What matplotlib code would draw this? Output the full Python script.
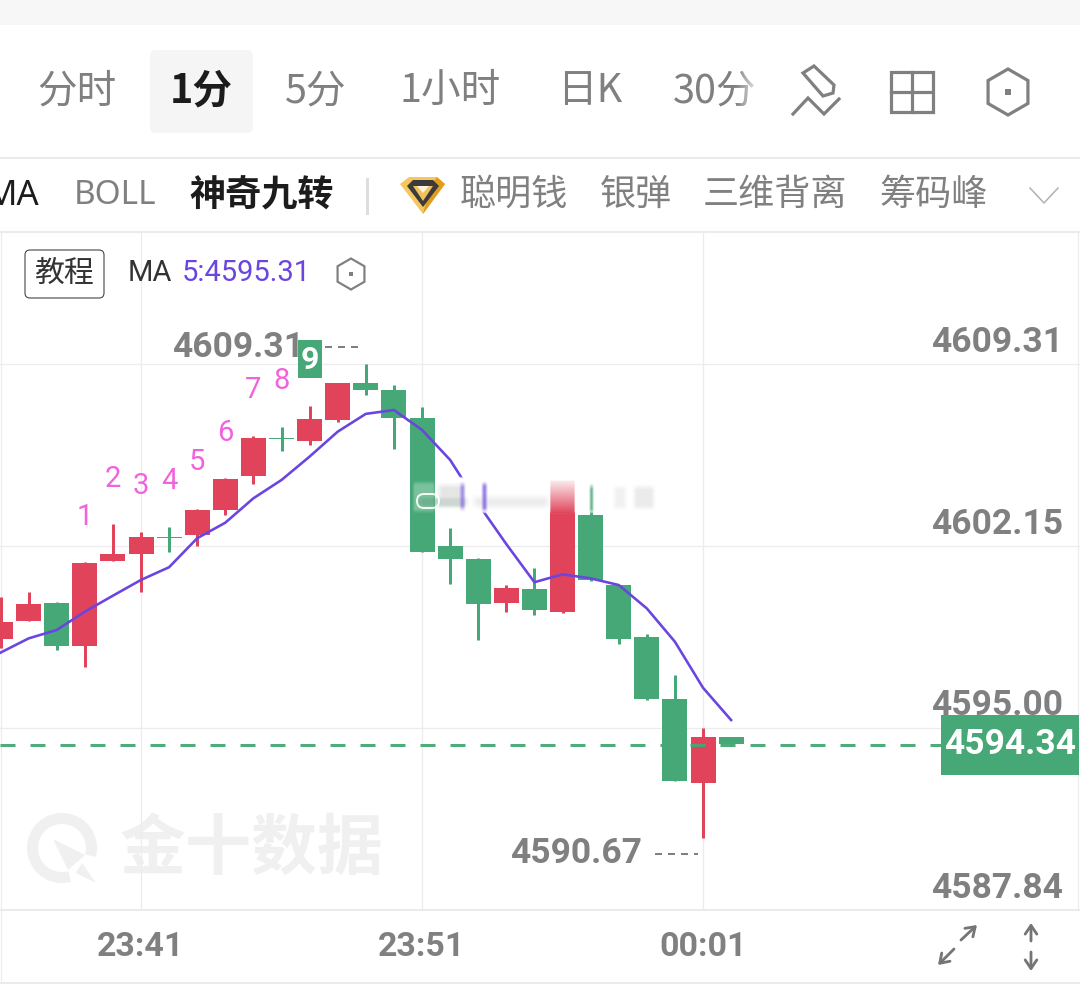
import numpy as np
import matplotlib
matplotlib.use("Agg")
import matplotlib.pyplot as plt
from matplotlib.patches import Rectangle, FancyBboxPatch, Polygon

CJK = ['Noto Sans CJK SC', 'DejaVu Sans']
NARROW = ['Liberation Sans Narrow', 'Roboto', 'DejaVu Sans']
RED, GREEN, PURPLE = '#e0435a', '#45a876', '#6a45e0'
GRAY, DARK, PINK = '#808080', '#1c1c1c', '#f262dc'

# ---------- data ----------
candle_index = list(range(-5, 22))
opens = [4598.51, 4599.20, 4599.92, 4598.22, 4601.55, 4601.85, 4602.51, 4602.57, 4603.58,
         4604.92, 4606.39, 4606.28, 4607.12, 4608.58, 4608.29, 4607.19, 4602.15, 4601.63,
         4599.91, 4600.46, 4599.57, 4603.36, 4600.62, 4598.59, 4596.14, 4592.82, 4594.64]
closes = [4599.17, 4599.87, 4598.23, 4601.50, 4601.84, 4602.50, 4602.47, 4603.58, 4604.79,
          4606.39, 4606.35, 4607.14, 4608.55, 4608.30, 4607.18, 4601.93, 4601.65, 4599.88,
          4600.49, 4599.64, 4604.63, 4600.82, 4598.51, 4596.13, 4592.90, 4594.65, 4594.36]
highs = [4600.16, 4600.36, 4599.95, 4601.52, 4603.02, 4602.70, 4602.91, 4603.62, 4604.83,
         4606.48, 4606.83, 4607.66, 4608.58, 4609.30, 4608.49, 4607.63, 4602.86, 4601.67,
         4600.62, 4601.28, 4604.63, 4604.63, 4600.62, 4598.68, 4597.08, 4595.01, 4594.64]
lows = [4598.14, 4599.20, 4598.06, 4597.41, 4601.55, 4600.35, 4601.93, 4602.17, 4603.38,
        4604.60, 4605.90, 4606.14, 4607.04, 4608.08, 4605.97, 4601.93, 4600.67, 4598.45,
        4599.55, 4599.45, 4599.53, 4600.79, 4598.30, 4596.10, 4592.90, 4590.68, 4594.29]
ma5 = [4597.96, 4598.52, 4598.85, 4599.57, 4600.20, 4600.82, 4601.32, 4602.46, 4603.07,
       4604.03, 4604.75, 4605.67, 4606.65, 4607.35, 4607.50, 4606.72, 4605.54, 4603.81,
       4602.23, 4600.73, 4601.04, 4600.88, 4600.62, 4599.70, 4598.39, 4596.58, 4595.31]
td_index = [-2, -1, 0, 1, 2, 3, 4, 5]
td_labels = ['1', '2', '3', '4', '5', '6', '7', '8']
td_prices = [4603.29, 4604.79, 4604.51, 4604.71, 4605.46, 4606.60, 4608.29, 4608.64]
y_ticks = [4609.31, 4602.15, 4595.00, 4587.84]
y_labels = ['4609.31', '4602.15', '4595.00', '4587.84']
x_ticks = [0, 10, 20]
x_labels = ['23:41', '23:51', '00:01']
last_price = 4594.34
tabs = ['分时', '1分', '5分', '1小时', '日K', '30分']
indicators_gray = ['BOLL', '聪明钱', '银弹', '三维背离', '筹码峰']

# ---------- layout ----------
W, H = 1080, 993
fig = plt.figure(figsize=(W / 100, H / 100), dpi=100, facecolor='white')
px = 0.72  # points per pixel


def pixel_axes(z):
    a = fig.add_axes([0, 0, 1, 1], zorder=z)
    a.set_xlim(0, W)
    a.set_ylim(H, 0)
    a.axis('off')
    a.patch.set_alpha(0)
    a.autoscale(False)
    return a


bg = pixel_axes(0)
ax = fig.add_axes([0, (H - 910) / H, 1, (910 - 232) / H], zorder=1)
ov = pixel_axes(2)

# ---------- chrome underneath ----------
bg.add_patch(Rectangle((0, 0), W, 25, fc='#f7f7f7', ec='none'))
for yy in (158, 232, 910, 983):
    bg.plot([0, W], [yy, yy], color='#e6e6e6', lw=1.1)
bg.plot([1, 1], [232, 983], color='#ececec', lw=0.8)
bg.plot([1078, 1078], [232, 910], color='#ececec', lw=0.8)
bg.add_patch(FancyBboxPatch((153, 53), 97, 77, boxstyle='round,pad=3,rounding_size=6',
                            fc='#f5f5f5', ec='none'))

# watermark
WM = '#f0f0f0'
phi = np.radians(np.linspace(75, 375, 80))
bg.plot(62 + 29.5 * np.cos(phi), 848 + 29.5 * np.sin(phi), color=WM, lw=11 * px,
        solid_capstyle='butt')
bg.add_patch(Polygon([(53, 839), (85, 855), (68, 870)], fc=WM, ec='none'))
bg.add_patch(Polygon([(82, 863), (96, 883), (76, 873)], fc=WM, ec='none'))
bg.text(252, 850, '金十数据', family=CJK, weight='bold', color=WM, fontsize=47.5,
        ha='center', va='center')

# ---------- chart ----------
ax.patch.set_alpha(0)
ax.set_xlim((0 - 141) / 28.1, (W - 141) / 28.1)
ax.set_ylim(4587.84, 4587.84 + (910 - 232) * 0.039324)
for s in ax.spines.values():
    s.set_visible(False)
ax.set_yticks(y_ticks)
ax.set_xticks(x_ticks)
ax.set_xticklabels(x_labels, family=NARROW, fontsize=24.5, weight='bold', color=GRAY)
ax.tick_params(axis='x', length=0, pad=15)
ax.tick_params(axis='y', length=0, labelleft=False)
ax.grid(True, color='#ececec', lw=0.9)
ax.set_axisbelow(True)

for i, o, c, h, l in zip(candle_index, opens, closes, highs, lows):
    col = RED if c > o else GREEN
    ax.vlines(i, l, h, color=col, lw=3 * px, zorder=3)
    ax.bar(i, abs(c - o), bottom=min(o, c), width=25 / 28.1, color=col, zorder=3)
ax.plot(candle_index, ma5, color=PURPLE, lw=2.6 * px, zorder=4, solid_joinstyle='round')
ax.plot([ax.get_xlim()[0], (941 - 141) / 28.1], [last_price, last_price], color=GREEN,
        lw=3 * px, dashes=(15 / 3, 15 / 3), zorder=5, alpha=0.95)

for i, lab, p in zip(td_index, td_labels, td_prices):
    ax.text(i, p, lab, family=NARROW, color=PINK, fontsize=21, ha='center', va='center', zorder=6)

for v, lab in zip(y_ticks, y_labels):
    ax.annotate(lab, (1, v), xycoords=('axes fraction', 'data'),
                xytext=(-17 * px, 22 * px), textcoords='offset points',
                family=NARROW, weight='bold', fontsize=25.5, color=GRAY,
                ha='right', va='center', zorder=6)

# high / low markers
hi_i, lo_i = candle_index[highs.index(max(highs))], candle_index[lows.index(min(lows))]
ax.annotate(f'{max(highs) + 0.01:.2f}', (hi_i, max(highs)), xytext=(-62 * px, 17 * px),
            textcoords='offset points', family=NARROW, weight='bold', fontsize=25.5,
            color=GRAY, ha='right', va='center', zorder=5)
ax.annotate(f'{min(lows) - 0.01:.2f}', (lo_i, min(lows)), xytext=(-61 * px, -16 * px),
            textcoords='offset points', family=NARROW, weight='bold', fontsize=25.5,
            color=GRAY, ha='right', va='center', zorder=5)
ov.plot([325, 360], [347, 347], color=GRAY, lw=2 * px, dashes=(3.5, 3))
ov.plot([655, 698], [854, 854], color=GRAY, lw=2 * px, dashes=(3.5, 3))

# ---------- overlay ----------
ov.add_patch(Rectangle((298, 340), 24, 38, fc=GREEN, ec='none', zorder=5))
ov.text(310, 360, '9', family=NARROW, weight='bold', color='white', fontsize=23,
        ha='center', va='center', zorder=6)
ov.add_patch(Rectangle((941, 715), 138, 60, fc=GREEN, ec='none', zorder=5))
ov.text(1010, 745, f'{last_price:.2f}', family=NARROW, weight='bold', color='white',
        fontsize=25.5, ha='center', va='center', zorder=6)


def soft(x0, x1, y0, y1, color, alpha, ex=4, ey=4, fy=None):
    """soft-edged colour veil (for the blurred strip)"""
    xs = np.linspace(x0, x1, 120)
    ys = np.linspace(y0, y1, 60)
    ax_ = np.clip((xs - x0) / ex, 0, 1) * np.clip((x1 - xs) / ex, 0, 1)
    ay_ = np.clip((ys - y0) / ey, 0, 1) * np.clip((y1 - ys) / ey, 0, 1)
    if fy is not None:
        ay_ = ay_ * np.interp(ys, [y0, y1], fy)
    arr = np.zeros((60, 120, 4))
    arr[..., :3] = matplotlib.colors.to_rgb(color)
    arr[..., 3] = alpha * np.outer(ay_, ax_)
    ov.imshow(arr, extent=(x0, x1, y1, y0), aspect='auto', interpolation='bilinear', zorder=3)


# blurred strip
soft(436, 668, 476, 514, 'white', 1.0, ex=3, ey=2)
soft(412, 436, 480, 514, 'white', 0.30, ex=3, ey=5)
soft(414, 470, 496, 508, '#5f9b7c', 0.45, ex=10, ey=4)
soft(436, 466, 482, 510, '#d9d9d9', 0.65, ex=6, ey=6)
soft(470, 552, 494, 510, '#e4e4e4', 0.65, ex=8, ey=6)
soft(459, 466, 481, 512, PURPLE, 0.55, ex=3, ey=6)
soft(481, 488, 481, 513, PURPLE, 0.70, ex=3, ey=5)
soft(550, 575, 480, 514, RED, 1.0, ex=0.5, ey=0.5, fy=[0.10, 1.0])
soft(589, 594, 483, 515, GREEN, 0.8, ex=2, ey=6)
soft(612, 628, 484, 511, '#ebebeb', 0.7, ex=5, ey=6)
soft(632, 656, 484, 511, '#e6e6e6', 0.8, ex=5, ey=6)
ov.add_patch(FancyBboxPatch((417, 494), 22, 14, boxstyle='round,pad=0,rounding_size=7',
                            fc='none', ec='white', lw=2 * px, zorder=4, alpha=0.9))

# tab row
for s, xc in zip(tabs, (77, 201, 316, 450, 590, 715)):
    on = s == '1分'
    ov.text(xc, 91, s, family=CJK, fontsize=28.5, color=DARK if on else GRAY,
            weight='bold' if on else 'normal', ha='center', va='center')
grad = np.ones((4, 40, 4))
grad[..., 3] = np.clip(np.linspace(-0.1, 1.1, 40), 0, 1)
ov.imshow(grad, extent=(733, 765, 115, 65), aspect='auto', interpolation='bilinear', zorder=5)

# toolbar icons
ic = dict(color=GRAY, lw=3.2 * px, solid_joinstyle='miter')
ov.add_patch(Polygon([(814, 66), (834, 85), (833, 93), (823, 96), (803, 73)], closed=True,
                     fc='none', ec=GRAY, lw=3.2 * px))
ov.plot([793, 808, 824, 839], [114, 98, 114, 99], **ic)
ov.add_patch(Rectangle((891, 72), 41.5, 40, fc='none', ec=GRAY, lw=3.2 * px))
ov.plot([912, 912], [72, 112], **ic)
ov.plot([891, 932], [92, 92], **ic)


def hexagon(cx, cy, r, lw, dot):
    t = np.radians(np.arange(0, 360, 60) + 90)
    ov.add_patch(Polygon(np.c_[cx + r * np.cos(t), cy + r * np.sin(t)], closed=True,
                         fc='none', ec=GRAY, lw=lw * px))
    ov.add_patch(Rectangle((cx - dot / 2, cy - dot / 2), dot, dot, fc=GRAY, ec='none'))


hexagon(1008, 92, 23, 3.2, 6)
hexagon(351, 274, 15.5, 2.2, 4)

# indicator row
ov.text(39, 196, 'MA', family=['Noto Sans'], weight='bold', color=DARK, fontsize=25,
        ha='right', va='center')
ov.text(115, 196, indicators_gray[0], family=['Noto Sans'], color=GRAY, fontsize=24,
        ha='center', va='center')
ov.text(262, 196, '神奇九转', family=CJK, weight='bold', color=DARK, fontsize=26,
        ha='center', va='center')
ov.plot([367, 367], [179, 213], color='#dddddd', lw=3 * px)
for s, xc in zip(indicators_gray[1:], (514, 636, 775, 934)):
    ov.text(xc, 195, s, family=CJK, color=GRAY, fontsize=26, ha='center', va='center')
ov.plot([1030, 1044, 1058], [188, 203, 188], color='#b0b0b0', lw=1.5 * px)

# diamond logo
ov.add_patch(Polygon([(400, 184), (409, 177), (437, 177), (445, 184), (423, 214)], fc='#f6c660', ec='none'))
ov.add_patch(Polygon([(423, 214), (445, 184), (437, 177), (430, 186)], fc='#e39d1e', ec='none'))
ov.add_patch(Polygon([(407, 186), (413, 180), (433, 180), (439, 186), (423, 207)], fc='#3b3b3b', ec='none'))
ov.add_patch(Polygon([(413, 186), (433, 186), (423, 201)], fc='#f3c159', ec='none'))
ov.add_patch(Polygon([(417, 186), (429, 186), (423, 193)], fc='#fff6df', ec='none'))

# tutorial row
ov.add_patch(FancyBboxPatch((25, 250), 79, 48, boxstyle='round,pad=0,rounding_size=5',
                            fc='white', ec='#444444', lw=1.1 * px))
ov.text(64, 273, '教程', family=CJK, color='#333333', fontsize=21.5, ha='center', va='center')
ov.text(128, 273, 'MA', family=['Roboto'], color='#333333', fontsize=21, ha='left', va='center')
ov.text(182, 273, f'5:{ma5[-1]:.2f}', family=['Roboto'], color=PURPLE, fontsize=21,
        ha='left', va='center')

# bottom-right arrows
ar = dict(arrowstyle='->,head_width=0.42,head_length=0.62', color='#757575', lw=2.8 * px,
          shrinkA=0, shrinkB=0)
for a, b in [((961, 940), (977, 925)), ((954, 949), (938, 965)),
             ((1031, 941), (1031, 923)), ((1031, 952), (1031, 971))]:
    ov.annotate('', xy=b, xytext=a, arrowprops=ar)

fig.savefig('out.png', dpi=100, facecolor='white')
